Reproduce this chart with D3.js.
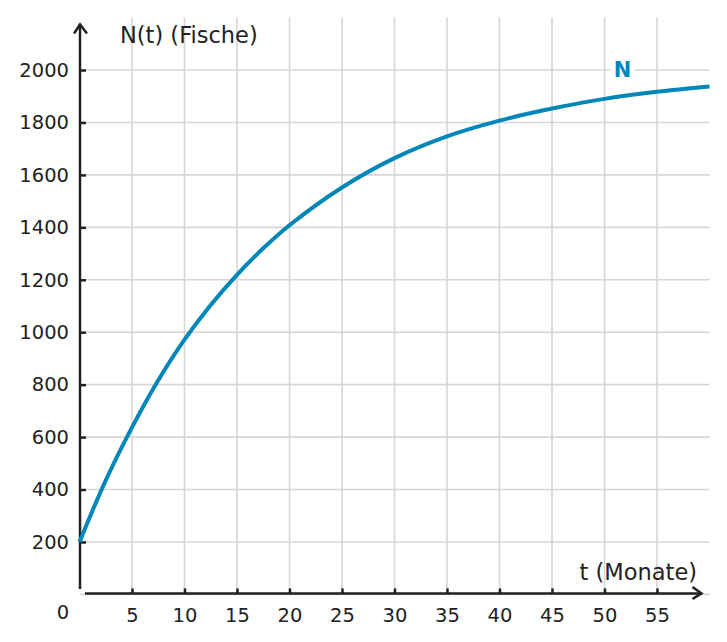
<!DOCTYPE html>
<html>
<head>
<meta charset="utf-8">
<script src="https://cdn.jsdelivr.net/npm/d3@7"></script>
<style>
  body { margin: 0; background: #fff; }
  svg { display: block; font-family: "DejaVu Sans", sans-serif; }
  .grid line { stroke: #d6d6d6; stroke-width: 1.6; }
  .axis path { display: none; }
  .axis line { stroke: #222; stroke-width: 2.5; }
  .axis text { fill: #222; font-size: 19.5px; font-family: "DejaVu Sans", sans-serif; }
</style>
</head>
<body>
<svg id="chart" width="727" height="642"></svg>
<script>
// months
const months = [0, 2.5, 5, 7.5, 10, 12.5, 15, 17.5, 20, 25, 30, 35, 40, 45, 50, 55, 60];
// fish count
const fish = [200, 435, 637, 817, 972, 1104, 1219, 1320, 1408, 1552, 1664, 1747, 1807, 1853, 1890, 1917, 1937];

const xTicks = [5, 10, 15, 20, 25, 30, 35, 40, 45, 50, 55];
const yTicks = [200, 400, 600, 800, 1000, 1200, 1400, 1600, 1800, 2000];

const svg = d3.select('#chart');
const x = d3.scaleLinear().domain([0, 60]).range([79.5, 709.5]);
const y = d3.scaleLinear().domain([0, 2200]).range([594.4, 17.6]);
const ink = '#222';
const blue = '#0086b8';

// grid
const grid = svg.append('g').attr('class', 'grid');
grid.selectAll('line.v').data(xTicks).join('line').attr('class', 'v')
  .attr('x1', d => x(d)).attr('x2', d => x(d))
  .attr('y1', y(2200)).attr('y2', y(0));
grid.selectAll('line.h').data([0, ...yTicks]).join('line').attr('class', 'h')
  .attr('x1', x(0)).attr('x2', x(60))
  .attr('y1', d => y(d)).attr('y2', d => y(d));

// ticks
svg.append('g').attr('class', 'axis')
  .attr('transform', `translate(0,${y(0) - 1})`)
  .call(d3.axisTop(x).tickValues(xTicks).tickSize(5).tickFormat(''));
svg.append('g').attr('class', 'axis')
  .attr('transform', `translate(0,${y(0) - 1})`)
  .call(d3.axisBottom(x).tickValues(xTicks).tickSize(0).tickPadding(15).tickFormat(d3.format('d')))
  .selectAll('text').attr('dy', '0.71em');
svg.append('g').attr('class', 'axis')
  .attr('transform', `translate(${x(0) + 0.5},0)`)
  .call(d3.axisRight(y).tickValues(yTicks).tickSize(6).tickFormat(''));
svg.append('g').attr('class', 'axis')
  .attr('transform', `translate(${x(0) + 0.5},0)`)
  .call(d3.axisLeft(y).tickValues(yTicks).tickSize(0).tickPadding(11).tickFormat(d3.format('d')));

svg.append('text').attr('x', 63).attr('y', 619)
  .attr('text-anchor', 'middle').attr('fill', ink)
  .attr('font-size', 19.5).text('0');

// axis lines with open arrowheads
const axes = svg.append('g').attr('fill', 'none').attr('stroke', ink)
  .attr('stroke-width', 2.5).attr('stroke-linecap', 'butt');
axes.append('path').attr('d', `M${x(0) + 0.5},589 V24.5`);
axes.append('path').attr('d', `M74,33.5 L${x(0) + 0.5},24.5 L87,33.5`)
  .attr('stroke-linejoin', 'miter');
axes.append('path').attr('d', `M85,${y(0) - 1} H701.5`);
axes.append('path').attr('d', `M692.5,587 L701.5,${y(0) - 1} L692.5,599`);

// curve
const line = d3.line()
  .x((d, i) => x(months[i]))
  .y(d => y(d))
  .curve(d3.curveCatmullRom.alpha(0.5));
svg.append('path').datum(fish)
  .attr('fill', 'none').attr('stroke', blue).attr('stroke-width', 4)
  .attr('d', line);

// labels
svg.append('text').attr('x', 120).attr('y', 43)
  .attr('font-size', 22.5).attr('fill', ink).text('N(t) (Fische)');
svg.append('text').attr('x', 697).attr('y', 580).attr('text-anchor', 'end')
  .attr('font-size', 22.5).attr('fill', ink).text('t (Monate)');

svg.append('rect').attr('x', 610).attr('y', 58).attr('width', 25).attr('height', 22).attr('fill', '#fff');
svg.append('text').attr('x', 622.5).attr('y', 77).attr('text-anchor', 'middle')
  .attr('font-size', 21).attr('font-weight', 'bold').attr('fill', blue).text('N');
</script>
</body>
</html>
